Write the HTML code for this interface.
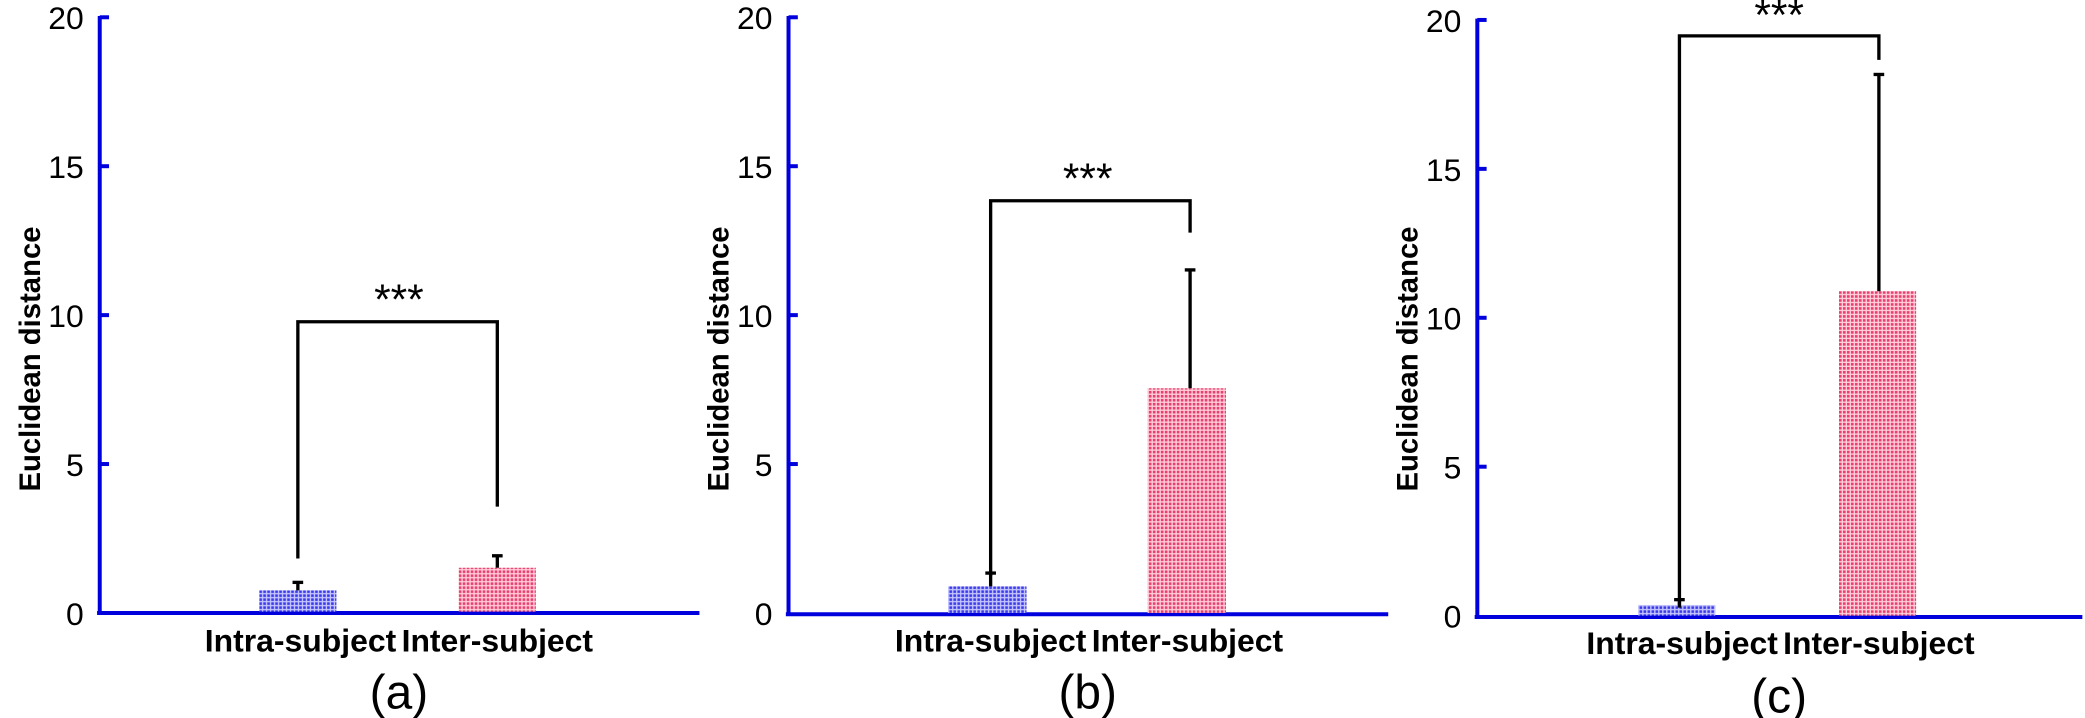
<!DOCTYPE html>
<html><head><meta charset="utf-8"><style>
html,body{margin:0;padding:0;background:#fff;}
svg{display:block;}
text{font-family:"Liberation Sans",Arial,sans-serif;}
</style></head><body>
<svg width="2085" height="718" viewBox="0 0 1568 540" preserveAspectRatio="none" xmlns="http://www.w3.org/2000/svg">
<defs>
<pattern id="pb" width="3" height="3" patternUnits="userSpaceOnUse">
<rect width="3" height="3" fill="#c8c8ff"/><rect width="2" height="2" fill="#3a3ae8"/></pattern>
<pattern id="pp" width="3" height="3" patternUnits="userSpaceOnUse">
<rect width="3" height="3" fill="#ffd0dc"/><rect width="2" height="2" fill="#e8406e"/></pattern>
</defs>

<!-- Panel a -->
<g>
<text transform="translate(30,270) rotate(-90)" text-anchor="middle" font-size="22" font-weight="bold">Euclidean distance</text>
<g font-size="24" text-anchor="end">
<text x="63" y="22">20</text><text x="63" y="134">15</text><text x="63" y="246">10</text><text x="63" y="358">5</text><text x="63" y="470">0</text>
</g>
<g stroke="#0000dd" stroke-width="3">
<line x1="75" y1="12" x2="75" y2="462"/><line x1="73" y1="461" x2="526" y2="461"/>
<line x1="75" y1="13" x2="82" y2="13"/><line x1="75" y1="125" x2="82" y2="125"/><line x1="75" y1="237" x2="82" y2="237"/><line x1="75" y1="349" x2="82" y2="349"/>
</g>
<rect x="195" y="444" width="58" height="16" fill="url(#pb)"/>
<rect x="345" y="427" width="58" height="33" fill="url(#pp)"/>
<g stroke="#000" stroke-width="2.5" fill="none">
<line x1="224" y1="444" x2="224" y2="438"/><line x1="220" y1="438" x2="228" y2="438"/>
<line x1="374" y1="427" x2="374" y2="418"/><line x1="370" y1="418" x2="378" y2="418"/>
<polyline points="224,420 224,242 374,242 374,381"/>
</g>
<text x="300" y="236" text-anchor="middle" font-size="32">***</text>
<g font-size="24" font-weight="bold" text-anchor="middle">
<text x="226" y="490">Intra-subject</text><text x="374" y="490">Inter-subject</text></g>
<text x="300" y="533" text-anchor="middle" font-size="36">(a)</text>
</g>

<!-- Panel b -->
<g>
<text transform="translate(548,270) rotate(-90)" text-anchor="middle" font-size="22" font-weight="bold">Euclidean distance</text>
<g font-size="24" text-anchor="end">
<text x="581" y="22">20</text><text x="581" y="134">15</text><text x="581" y="246">10</text><text x="581" y="358">5</text><text x="581" y="470">0</text>
</g>
<g stroke="#0000dd" stroke-width="3">
<line x1="593" y1="12" x2="593" y2="463"/><line x1="591" y1="462" x2="1044" y2="462"/>
<line x1="593" y1="13" x2="600" y2="13"/><line x1="593" y1="125" x2="600" y2="125"/><line x1="593" y1="237" x2="600" y2="237"/><line x1="593" y1="349" x2="600" y2="349"/>
</g>
<rect x="713" y="441" width="59" height="20" fill="url(#pb)"/>
<rect x="863" y="292" width="59" height="169" fill="url(#pp)"/>
<g stroke="#000" stroke-width="2.5" fill="none">
<line x1="745" y1="441" x2="745" y2="431"/><line x1="741" y1="431" x2="749" y2="431"/>
<line x1="895" y1="292" x2="895" y2="203"/><line x1="891" y1="203" x2="899" y2="203"/>
<polyline points="745,433 745,151 895,151 895,175"/>
</g>
<text x="818" y="145" text-anchor="middle" font-size="32">***</text>
<g font-size="24" font-weight="bold" text-anchor="middle">
<text x="745" y="490">Intra-subject</text><text x="893" y="490">Inter-subject</text></g>
<text x="818" y="533" text-anchor="middle" font-size="36">(b)</text>
</g>

<!-- Panel c -->
<g>
<text transform="translate(1066,270) rotate(-90)" text-anchor="middle" font-size="22" font-weight="bold">Euclidean distance</text>
<g font-size="24" text-anchor="end">
<text x="1099" y="24">20</text><text x="1099" y="136">15</text><text x="1099" y="248">10</text><text x="1099" y="360">5</text><text x="1099" y="472">0</text>
</g>
<g stroke="#0000dd" stroke-width="3">
<line x1="1111" y1="14" x2="1111" y2="465"/><line x1="1109" y1="464" x2="1566" y2="464"/>
<line x1="1111" y1="15" x2="1118" y2="15"/><line x1="1111" y1="127" x2="1118" y2="127"/><line x1="1111" y1="239" x2="1118" y2="239"/><line x1="1111" y1="351" x2="1118" y2="351"/>
</g>
<rect x="1232" y="455" width="58" height="8" fill="url(#pb)"/>
<rect x="1383" y="219" width="58" height="244" fill="url(#pp)"/>
<g stroke="#000" stroke-width="2.5" fill="none">
<line x1="1263" y1="455" x2="1263" y2="451"/><line x1="1259" y1="451" x2="1267" y2="451"/>
<line x1="1413" y1="219" x2="1413" y2="56"/><line x1="1409" y1="56" x2="1417" y2="56"/>
<polyline points="1263,457 1263,27 1413,27 1413,45"/>
</g>
<text x="1338" y="22" text-anchor="middle" font-size="32">***</text>
<g font-size="24" font-weight="bold" text-anchor="middle">
<text x="1265" y="492">Intra-subject</text><text x="1413" y="492">Inter-subject</text></g>
<text x="1338" y="536" text-anchor="middle" font-size="36">(c)</text>
</g>
</svg>
</body></html>
